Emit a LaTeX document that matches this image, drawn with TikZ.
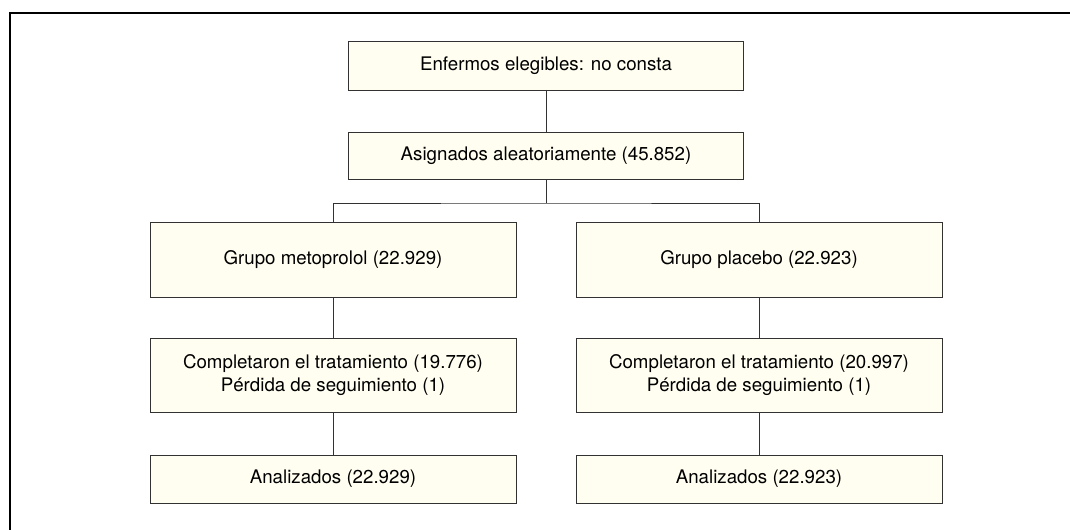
\documentclass[tikz,border=0pt]{standalone}
\usepackage{fontspec}
\setmainfont{TeX Gyre Heros}
\usepackage{tikz}
\usetikzlibrary{positioning}
\definecolor{boxcream}{RGB}{255,254,240}
\definecolor{boxedge}{RGB}{50,50,50}
\tikzset{
    stage/.style={
           rectangle,
           draw=boxedge, line width=0.7pt,
           fill=boxcream,
           inner sep=0pt,
           align=center,
           font=\fontsize{13.3}{16}\selectfont,
           },
}
\tikzset{
    link/.style={
           draw=boxedge, line width=0.7pt,
           },
}

\begin{document}
\begin{tikzpicture}
\useasboundingbox (0,0) rectangle (26.75,13.25);
\draw[line width=0.9pt] (0.25,0) -- (0.25,12.925) -- (26.75,12.925);
\node[stage, minimum width=9.875cm, minimum height=1.225cm] (elig) at (13.65,11.61) {Enfermos elegibles: no consta};
\node[stage, minimum width=9.875cm, minimum height=1.175cm] (asig) at (13.65,9.36) {Asignados aleatoriamente (45.852)};
\coordinate (split) at (13.65,8.175);
\node[stage, minimum width=9.15cm, minimum height=1.875cm] (meto) at (8.325,6.76) {Grupo metoprolol (22.929)};
\node[stage, minimum width=9.15cm, minimum height=1.875cm] (plac) at (18.975,6.76) {Grupo placebo (22.923)};
\node[stage, minimum width=9.15cm, minimum height=1.85cm] (metocomp) at (8.325,3.875) {Completaron el tratamiento (19.776)\\P\'erdida de seguimiento (1)};
\node[stage, minimum width=9.15cm, minimum height=1.85cm] (placcomp) at (18.975,3.875) {Completaron el tratamiento (20.997)\\P\'erdida de seguimiento (1)};
\node[stage, minimum width=9.15cm, minimum height=1.2cm] (metoanal) at (8.325,1.275) {Analizados (22.929)};
\node[stage, minimum width=9.15cm, minimum height=1.2cm] (placanal) at (18.975,1.275) {Analizados (22.923)};
\draw[link] (elig) -- (asig);
\draw[link] (asig) -- (split);
\draw[link] (meto) |- (split) -| (plac);
\draw[link] (meto) -- (metocomp);
\draw[link] (plac) -- (placcomp);
\draw[link] (metocomp) -- (metoanal);
\draw[link] (placcomp) -- (placanal);
\end{tikzpicture}
\end{document}
